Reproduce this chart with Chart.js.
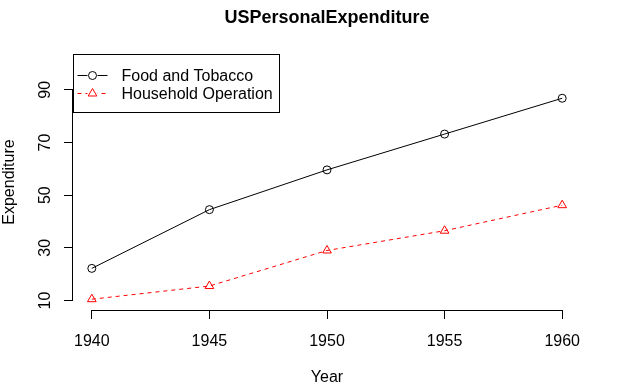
<!DOCTYPE html>
<html><head><meta charset="utf-8">
<script src="https://cdn.jsdelivr.net/npm/chart.js@4/dist/chart.umd.min.js"></script>
<style>html,body{margin:0;padding:0;background:#fff}#wrap{width:624px;height:391px}</style>
</head><body><div id="wrap"><canvas id="c" width="624" height="391"></canvas></div>
<script>
const years = [1940, 1945, 1950, 1955, 1960];
const foodTobacco = [22.2, 44.5, 59.6, 73.2, 86.8];
const householdOperation = [10.5, 15.5, 29.0, 36.5, 46.2];
const xTicks = [1940, 1945, 1950, 1955, 1960];
const yTicks = [10, 30, 50, 70, 90];
const seriesNames = ['Food and Tobacco', 'Household Operation'];
const chartTitle = 'USPersonalExpenditure';

const FONT = 'Liberation Sans, Arial, Helvetica, sans-serif';

const rAxes = {
  id: 'rAxes',
  afterDraw(chart) {
    const ctx = chart.ctx;
    const xs = chart.scales.x, ys = chart.scales.y;
    ctx.save();
    ctx.strokeStyle = '#000'; ctx.lineWidth = 1;
    ctx.beginPath();
    const by = Math.round(xs.top) + 0.5;
    ctx.moveTo(xs.getPixelForValue(xTicks[0]), by);
    ctx.lineTo(xs.getPixelForValue(xTicks[xTicks.length - 1]), by);
    const lx = Math.round(ys.right) - 0.5;
    ctx.moveTo(lx, ys.getPixelForValue(yTicks[0]));
    ctx.lineTo(lx, ys.getPixelForValue(yTicks[yTicks.length - 1]));
    ctx.stroke();
    // title
    const ca = chart.chartArea;
    ctx.fillStyle = '#000';
    ctx.font = 'bold 18px ' + FONT;
    ctx.textAlign = 'center'; ctx.textBaseline = 'middle';
    ctx.fillText(chartTitle, (ca.left + ca.right) / 2, 18);
    // legend
    const bx = Math.round(ca.left) + 0.5, byy = Math.round(ca.top) + 0.5;
    ctx.strokeRect(bx, byy, 206, 58);
    ctx.font = '16px ' + FONT;
    ctx.textAlign = 'left';
    chart.data.datasets.forEach((ds, i) => {
      const y = byy + 21 + i * 18;
      ctx.save();
      ctx.strokeStyle = ds.borderColor;
      ctx.setLineDash(ds.borderDash || []);
      ctx.beginPath(); ctx.moveTo(bx + 4, y); ctx.lineTo(bx + 34, y); ctx.stroke();
      ctx.setLineDash([]);
      ctx.fillStyle = '#fff';
      ctx.fillRect(bx + 19 - 5, y - 5, 10, 10);
      ctx.fillStyle = 'rgba(0,0,0,0)';
      Chart.helpers.drawPoint(ctx, {pointStyle: ds.pointStyle, radius: ds.pointRadius, borderWidth: 1}, bx + 19, y);
      ctx.restore();
      ctx.fillStyle = '#000';
      ctx.fillText(ds.label, bx + 48, y + 1);
    });
    ctx.restore();
  }
};

new Chart(document.getElementById('c'), {
  type: 'line',
  data: {
    datasets: [
      {
        label: seriesNames[0],
        data: years.map((x, i) => ({x, y: foodTobacco[i]})),
        borderColor: '#000', backgroundColor: 'rgba(0,0,0,0)',
        borderWidth: 1, pointStyle: 'circle', pointRadius: 4,
        pointBorderWidth: 1, pointBackgroundColor: 'rgba(0,0,0,0)', pointBorderColor: '#000'
      },
      {
        label: seriesNames[1],
        data: years.map((x, i) => ({x, y: householdOperation[i]})),
        borderColor: '#ff0000', backgroundColor: 'rgba(0,0,0,0)',
        borderWidth: 1, borderDash: [4, 4], pointStyle: 'triangle', pointRadius: 5,
        pointBorderWidth: 1, pointBackgroundColor: 'rgba(0,0,0,0)', pointBorderColor: '#ff0000'
      }
    ]
  },
  options: {
    responsive: false, animation: false,
    layout: {padding: {top: 54, left: 0, right: 43, bottom: 0}},
    plugins: {legend: {display: false}, title: {display: false}, tooltip: {enabled: false}},
    scales: {
      x: {
        type: 'linear', min: 1939.2, max: 1960.8,
        afterBuildTicks: s => { s.ticks = xTicks.map(v => ({value: v})); },
        afterFit: s => { s.height = 81; },
        grid: {display: true, drawOnChartArea: false, drawTicks: true, tickLength: 9, color: '#000'},
        border: {display: false},
        ticks: {color: '#000', font: {family: FONT, size: 16}, padding: 13, maxRotation: 0, minRotation: 0,
                callback: v => String(v)},
        title: {display: true, text: 'Year', color: '#000', font: {family: FONT, size: 16}, padding: {top: 0, bottom: 4}}
      },
      y: {
        type: 'linear', min: 6.4, max: 103.6,
        afterBuildTicks: s => { s.ticks = yTicks.map(v => ({value: v})); },
        afterFit: s => { s.width = 73; },
        grid: {display: true, drawOnChartArea: false, drawTicks: true, tickLength: 9, color: '#000'},
        border: {display: false},
        ticks: {color: '#000', font: {family: FONT, size: 16}, padding: 10, minRotation: 90, maxRotation: 90, crossAlign: 'center'},
        title: {display: true, text: 'Expenditure', color: '#000', font: {family: FONT, size: 16}, padding: {top: 0, bottom: 0}}
      }
    }
  },
  plugins: [rAxes]
});
</script></body></html>
